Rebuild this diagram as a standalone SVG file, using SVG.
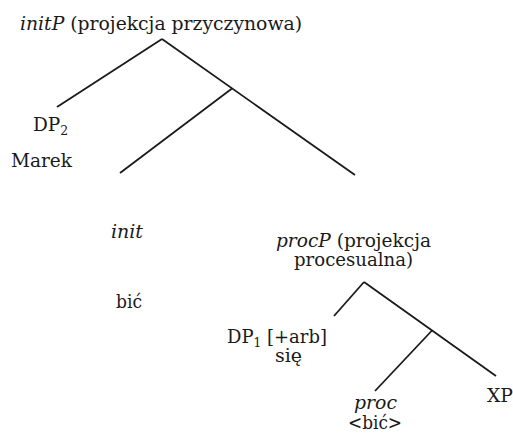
<svg xmlns="http://www.w3.org/2000/svg" width="513" height="435" viewBox="0 0 513 435">
<style>
text{font-family:"DejaVu Serif","Liberation Serif",serif;font-size:18.5px;fill:#1a1a1a}
.i{font-style:italic}
.sub{font-size:12.5px}
line{stroke:#1a1a1a;stroke-width:1.8;stroke-linecap:butt}
</style>
<rect width="513" height="435" fill="#fff"/>
<g id="connectors">
<line x1="162" y1="39" x2="57" y2="107"/>
<line x1="162" y1="39" x2="355" y2="175"/>
<line x1="232" y1="88.5" x2="120" y2="173"/>
<line x1="364" y1="282" x2="334" y2="316"/>
<line x1="364" y1="282" x2="496" y2="376"/>
<line x1="432" y1="330.5" x2="375" y2="391"/>
</g>
<g id="initP"><text x="20" y="30" textLength="282" lengthAdjust="spacingAndGlyphs"><tspan class="i">initP</tspan> (projekcja przyczynowa)</text></g>
<g id="DP2"><text x="33" y="131">DP<tspan class="sub" dy="4">2</tspan></text></g>
<g id="Marek"><text x="11" y="167" textLength="61" lengthAdjust="spacingAndGlyphs">Marek</text></g>
<g id="init"><text class="i" x="111" y="238" textLength="32" lengthAdjust="spacingAndGlyphs">init</text></g>
<g id="bic"><text x="116" y="307.5" textLength="26" lengthAdjust="spacingAndGlyphs">bić</text></g>
<g id="procP">
<text x="276" y="246.5" textLength="155" lengthAdjust="spacingAndGlyphs"><tspan class="i">procP</tspan> (projekcja</text>
<text x="294" y="265.5" textLength="119" lengthAdjust="spacingAndGlyphs">procesualna)</text>
</g>
<g id="DP1">
<text x="227" y="342.5" textLength="100" lengthAdjust="spacingAndGlyphs">DP<tspan class="sub" dy="4">1</tspan><tspan dy="-4"> [+arb]</tspan></text>
<text x="275" y="361.5" textLength="27" lengthAdjust="spacingAndGlyphs">się</text>
</g>
<g id="proc">
<text class="i" x="354" y="409" textLength="43" lengthAdjust="spacingAndGlyphs">proc</text>
<text x="348" y="429" textLength="54" lengthAdjust="spacingAndGlyphs">&lt;bić&gt;</text>
</g>
<g id="XP"><text x="487" y="401.5" textLength="26" lengthAdjust="spacingAndGlyphs">XP</text></g>
</svg>
